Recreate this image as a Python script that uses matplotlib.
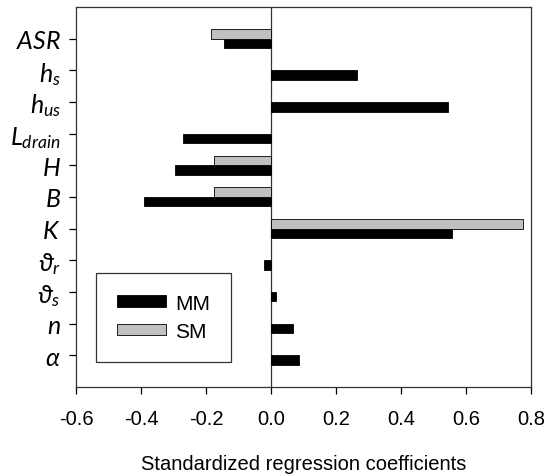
import numpy as np
import matplotlib
matplotlib.use("Agg")
import matplotlib.pyplot as plt

# data (top to bottom)
labels = [r"$ASR$", r"$h_s$", r"$h_{us}$", r"$L_{drain}$", r"$H$", r"$B$",
          r"$K$", r"$ϑ_r$", r"$ϑ_s$", r"$n$", r"$α$"]
mm = [-0.145, 0.264, 0.543, -0.272, -0.296, -0.390, 0.558, -0.022, 0.014, 0.067, 0.085]
sm = [-0.185, 0.0, 0.0, 0.0, -0.177, -0.177, 0.774, 0.0, 0.0, 0.0, 0.0]
xticks = [-0.6, -0.4, -0.2, 0.0, 0.2, 0.4, 0.6, 0.8]

plt.rcParams['font.family'] = ['Liberation Sans', 'DejaVu Sans']
plt.rcParams['mathtext.fontset'] = 'custom'
plt.rcParams['mathtext.it'] = 'Lato:italic'
plt.rcParams['mathtext.rm'] = 'Lato'
plt.rcParams['axes.linewidth'] = 0.9

fig = plt.figure(figsize=(5.47, 4.77), dpi=100)
ax = fig.add_axes([0.139, 0.187, 0.832, 0.796])

pos = np.arange(len(labels))
h = 0.3
# SM bar sits above the tick, MM bar below it (axis is inverted)
ax.barh(pos + h / 2, mm, height=h, color='black', edgecolor='black',
        linewidth=0.6, label='MM')
sm_idx = [i for i, v in enumerate(sm) if v != 0]
ax.barh(pos[sm_idx] - h / 2, [sm[i] for i in sm_idx], height=h, color='#c0c0c0',
        edgecolor='black', linewidth=0.6, label='SM')

ax.axvline(0, color='#333333', linewidth=0.9, zorder=0)

ax.set_xlim(-0.6, 0.8)
ax.set_ylim(len(labels), -1)
ax.set_xticks(xticks)
ax.set_xticklabels(["%.1f" % v for v in xticks], fontsize=14.5)
ax.set_yticks(pos)
ax.set_yticklabels(labels, fontsize=18)
ax.tick_params(axis='x', direction='out', length=5, width=0.9, pad=11)
ax.tick_params(axis='y', direction='out', length=5, width=0.9, pad=6)
for s in ax.spines.values():
    s.set_color('#333333')

ax.set_xlabel("Standardized regression coefficients", fontsize=14.5, labelpad=19)

leg = ax.legend(loc='lower left', bbox_to_anchor=(0.044, 0.066), fontsize=15,
                frameon=True, fancybox=False, edgecolor='black',
                handlelength=2.35, handleheight=0.5, borderpad=1.0,
                labelspacing=0.45, handletextpad=0.45, borderaxespad=0)
leg.get_frame().set_linewidth(0.9)

fig.savefig("out.png", dpi=100)
